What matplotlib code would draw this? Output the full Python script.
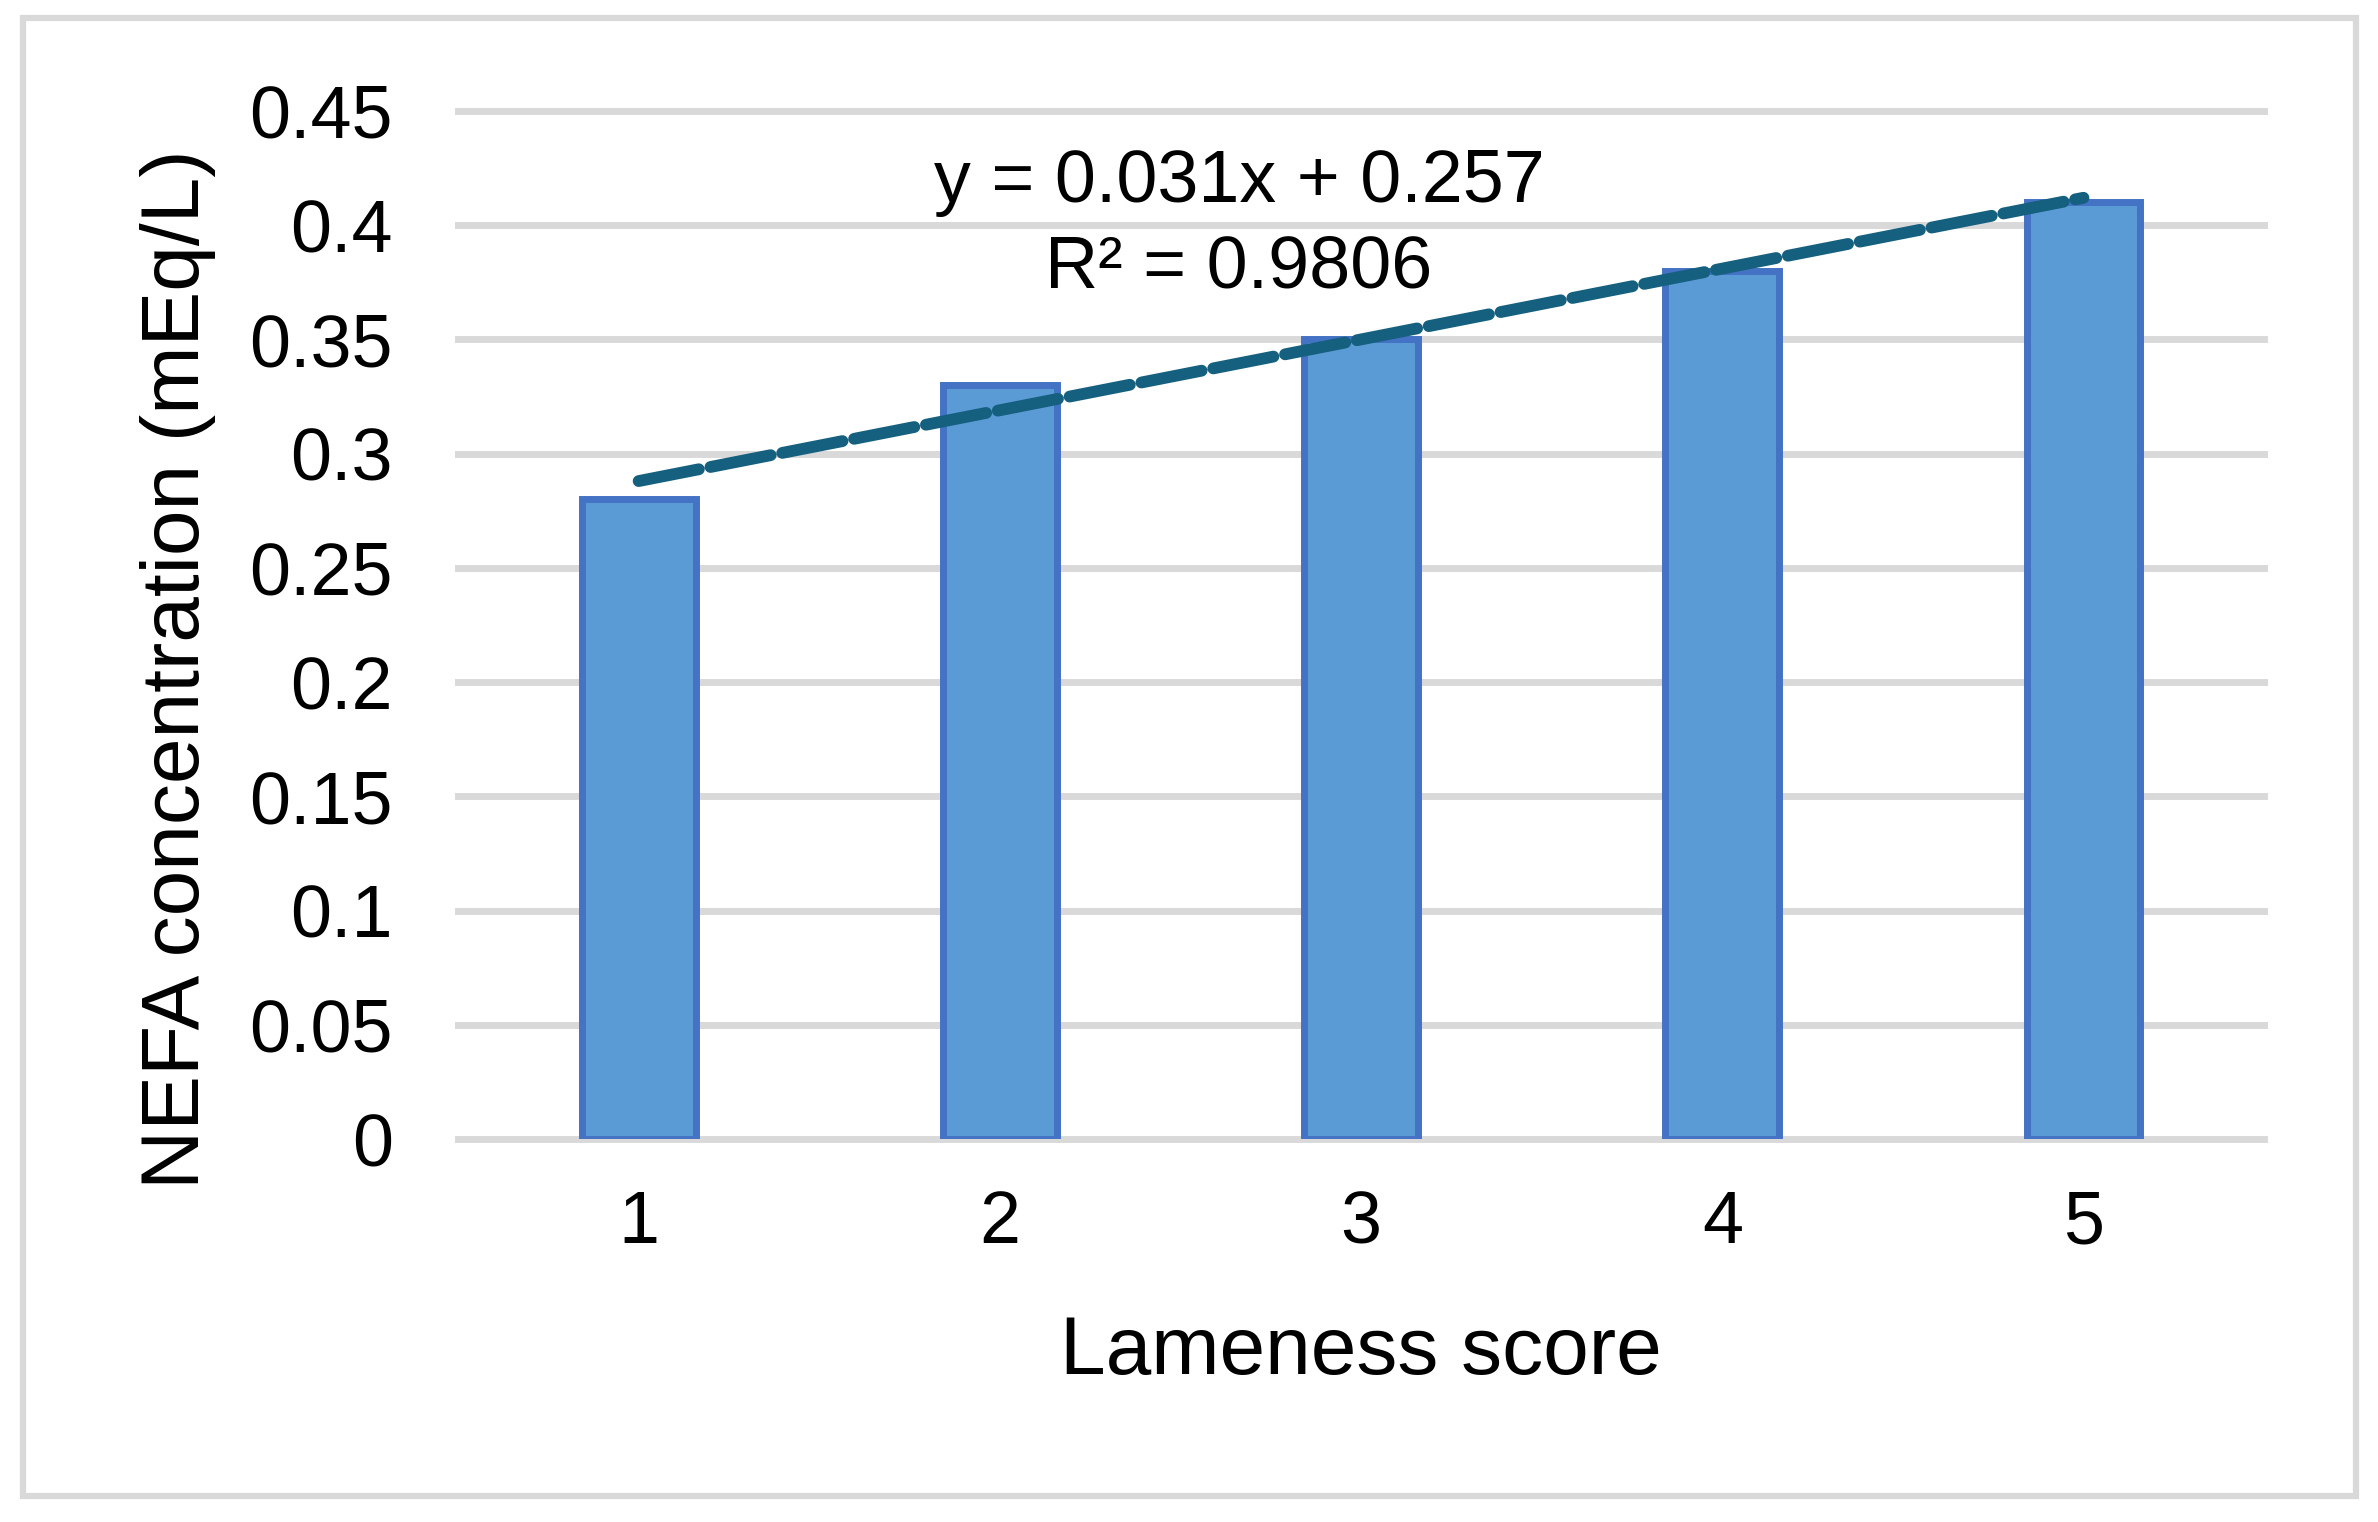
import numpy as np
import matplotlib
matplotlib.use("Agg")
import matplotlib.pyplot as plt
from matplotlib.patches import Rectangle
from matplotlib.ticker import FuncFormatter, MultipleLocator

# Data
lameness = [1, 2, 3, 4, 5]
nefa = [0.28, 0.33, 0.35, 0.38, 0.41]

plt.rcParams['font.family'] = ['Liberation Sans', 'DejaVu Sans']

fig = plt.figure(figsize=(23.78, 15.22), dpi=100)
ax = fig.add_axes([0.1926, 0.2516, 0.9521 - 0.1926, 0.9271 - 0.2516])

# bars
ax.bar(lameness, nefa, width=0.315, color='#5b9bd5', edgecolor='#4472c4',
       linewidth=5, zorder=3)

# linear trendline (least squares on the bar values)
slope, intercept = np.polyfit(lameness, nefa, 1)
xs = np.array([lameness[0], lameness[-1]])
ax.plot(xs, slope * xs + intercept, color='#15607f', linewidth=8.5,
        linestyle=(0, (5.2, 1.0)), dash_capstyle='round', zorder=4)

pred = slope * np.array(lameness) + intercept
r2 = 1 - np.sum((np.array(nefa) - pred) ** 2) / np.sum((np.array(nefa) - np.mean(nefa)) ** 2)

ax.set_xlim(0.5, 5.5)
ax.set_ylim(0, 0.45)
ax.yaxis.set_major_locator(MultipleLocator(0.05))
ax.yaxis.set_major_formatter(FuncFormatter(lambda v, p: '%g' % round(v, 2)))
ax.set_xticks(lameness)
ax.tick_params(axis='both', length=0, labelsize=53)
ax.tick_params(axis='y', pad=47)
ax.tick_params(axis='x', pad=36)

for s in ax.spines.values():
    s.set_visible(False)
ax.grid(axis='y', color='#d9d9d9', linewidth=5, zorder=0)
ax.set_axisbelow(True)
for gl in ax.yaxis.get_gridlines():
    gl.set_clip_on(False)

# trendline equation
fig.text(1239 / 2378, 1 - 202 / 1522, 'y = %.3fx + %.3f' % (slope, intercept),
         ha='center', va='baseline', fontsize=53)
fig.text(1239 / 2378, 1 - 287 / 1522, 'R² = %.4f' % r2,
         ha='center', va='baseline', fontsize=53)

# axis titles
fig.text(1361 / 2378, 1 - 1374 / 1522, 'Lameness score', ha='center',
         va='baseline', fontsize=59)
fig.text(178 / 2378, 1 - 669 / 1522, 'NEFA concentration (mEq/L)',
         rotation=90, ha='center', va='center', fontsize=59)

# outer chart border
fig.patches.append(Rectangle((23 / 2378, 1 - 1496 / 1522),
                             (2356 - 23) / 2378, (1496 - 18) / 1522,
                             transform=fig.transFigure, fill=False,
                             edgecolor='#d9d9d9', linewidth=4.5))

fig.savefig('out.png', dpi=100, facecolor='white')
